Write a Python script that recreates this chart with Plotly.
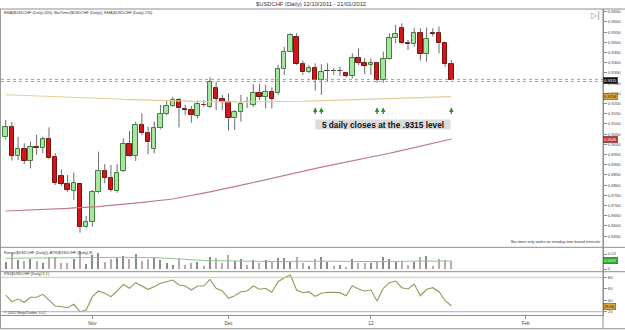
import plotly.graph_objects as go

# ---------------- data ----------------
OPEN = [0.9034, 0.9083, 0.8944, 0.8977, 0.8920, 0.8988, 0.8980, 0.9024, 0.8936, 0.8845,
        0.8804, 0.8773, 0.8804, 0.8593, 0.8618, 0.8765, 0.8869, 0.8836, 0.8771, 0.8869,
        0.9001, 0.8944, 0.9095, 0.9054, 0.8977, 0.9078, 0.9148, 0.9188, 0.9217, 0.9173,
        0.9168, 0.9140, 0.9195, 0.9184, 0.9274, 0.9222, 0.9206, 0.9127, 0.9160, 0.9206,
        0.9193, 0.9250, 0.9233, 0.9258, 0.9250, 0.9367, 0.9454, 0.9527, 0.9393, 0.9356,
        0.9373, 0.9315, 0.9359, 0.9359, 0.9359, 0.9348, 0.9335, 0.9421, 0.9400, 0.9389,
        0.9397, 0.9315, 0.9416, 0.9519, 0.9569, 0.9498, 0.9490, 0.9544, 0.9442, 0.9547,
        0.9544, 0.9495, 0.9392]
HIGH = [0.9119, 0.9111, 0.9037, 0.9005, 0.9013, 0.9046, 0.9037, 0.9083, 0.8956, 0.8877,
        0.8850, 0.8861, 0.8805, 0.8649, 0.8776, 0.8964, 0.8903, 0.8899, 0.8903, 0.9029,
        0.9065, 0.9111, 0.9152, 0.9086, 0.9111, 0.9193, 0.9217, 0.9233, 0.9227, 0.9193,
        0.9188, 0.9214, 0.9217, 0.9328, 0.9307, 0.9242, 0.9250, 0.9168, 0.9242, 0.9233,
        0.9295, 0.9295, 0.9291, 0.9279, 0.9389, 0.9478, 0.9544, 0.9544, 0.9410, 0.9389,
        0.9397, 0.9393, 0.9397, 0.9373, 0.9381, 0.9356, 0.9446, 0.9470, 0.9421, 0.9421,
        0.9405, 0.9454, 0.9544, 0.9585, 0.9593, 0.9511, 0.9569, 0.9569, 0.9572, 0.9569,
        0.9577, 0.9498, 0.9413]
LOW = [0.9024, 0.8920, 0.8923, 0.8903, 0.8882, 0.8948, 0.8956, 0.8926, 0.8801, 0.8796,
       0.8768, 0.8727, 0.8567, 0.8588, 0.8596, 0.8760, 0.8809, 0.8768, 0.8763, 0.8864,
       0.8939, 0.8918, 0.9046, 0.8951, 0.8956, 0.9073, 0.9143, 0.9183, 0.9083, 0.9143,
       0.9106, 0.9127, 0.9184, 0.9178, 0.9168, 0.9168, 0.9067, 0.9070, 0.9111, 0.9178,
       0.9183, 0.9217, 0.9176, 0.9176, 0.9242, 0.9340, 0.9452, 0.9389, 0.9340, 0.9348,
       0.9263, 0.9242, 0.9307, 0.9340, 0.9335, 0.9328, 0.9323, 0.9389, 0.9344, 0.9340,
       0.9302, 0.9302, 0.9413, 0.9495, 0.9490, 0.9462, 0.9478, 0.9410, 0.9405, 0.9528,
       0.9446, 0.9380, 0.9315]
CLOSE = [0.9083, 0.8943, 0.8977, 0.8920, 0.8988, 0.8980, 0.9024, 0.8931, 0.8812, 0.8805,
         0.8776, 0.8809, 0.8596, 0.8618, 0.8765, 0.8869, 0.8836, 0.8776, 0.8861, 0.9001,
         0.8944, 0.9095, 0.9054, 0.9010, 0.9078, 0.9148, 0.9188, 0.9217, 0.9176, 0.9168,
         0.9142, 0.9197, 0.9192, 0.9307, 0.9222, 0.9209, 0.9127, 0.9157, 0.9197, 0.9205,
         0.9253, 0.9233, 0.9258, 0.9222, 0.9367, 0.9454, 0.9536, 0.9393, 0.9352, 0.9373,
         0.9315, 0.9356, 0.9360, 0.9358, 0.9359, 0.9335, 0.9421, 0.9397, 0.9385, 0.9397,
         0.9315, 0.9416, 0.9519, 0.9539, 0.9495, 0.9490, 0.9544, 0.9442, 0.9516, 0.9541,
         0.9495, 0.9392, 0.9315]
EMA_SLOW = [0.9243, 0.9242, 0.9241, 0.9240, 0.9239, 0.9238, 0.9237, 0.9236, 0.9235, 0.9233,
            0.9232, 0.9231, 0.9229, 0.9228, 0.9227, 0.9226, 0.9224, 0.9223, 0.9222, 0.9220,
            0.9219, 0.9218, 0.9217, 0.9216, 0.9214, 0.9213, 0.9212, 0.9212, 0.9211, 0.9210,
            0.9210, 0.9209, 0.9209, 0.9209, 0.9208, 0.9208, 0.9208, 0.9208, 0.9208, 0.9208,
            0.9208, 0.9208, 0.9208, 0.9208, 0.9208, 0.9209, 0.9210, 0.9211, 0.9211, 0.9212,
            0.9213, 0.9213, 0.9214, 0.9215, 0.9216, 0.9217, 0.9218, 0.9219, 0.9220, 0.9221,
            0.9222, 0.9223, 0.9224, 0.9225, 0.9226, 0.9227, 0.9228, 0.9229, 0.9230, 0.9231,
            0.9232, 0.9233, 0.9234]
EMA_FAST = [0.8673, 0.8674, 0.8675, 0.8677, 0.8678, 0.8679, 0.8681, 0.8682, 0.8683, 0.8685,
            0.8686, 0.8688, 0.8689, 0.8691, 0.8693, 0.8695, 0.8698, 0.8700, 0.8703, 0.8706,
            0.8709, 0.8712, 0.8715, 0.8718, 0.8721, 0.8724, 0.8727, 0.8732, 0.8738, 0.8743,
            0.8749, 0.8755, 0.8761, 0.8767, 0.8773, 0.8779, 0.8785, 0.8792, 0.8799, 0.8806,
            0.8813, 0.8820, 0.8827, 0.8834, 0.8841, 0.8848, 0.8856, 0.8863, 0.8870, 0.8876,
            0.8882, 0.8888, 0.8894, 0.8900, 0.8906, 0.8912, 0.8918, 0.8924, 0.8930, 0.8935,
            0.8942, 0.8949, 0.8956, 0.8963, 0.8970, 0.8977, 0.8984, 0.8991, 0.8998, 0.9005,
            0.9012, 0.9019, 0.9026]
ATR = [0.0143, 0.0144, 0.0145, 0.0144, 0.0145, 0.0144, 0.0143, 0.0143, 0.0145, 0.0146,
       0.0147, 0.0150, 0.0156, 0.0155, 0.0158, 0.0160, 0.0158, 0.0157, 0.0156, 0.0156,
       0.0155, 0.0156, 0.0155, 0.0153, 0.0152, 0.0148, 0.0142, 0.0136, 0.0132, 0.0127,
       0.0122, 0.0118, 0.0114, 0.0112, 0.0110, 0.0106, 0.0104, 0.0102, 0.0100, 0.0098,
       0.0097, 0.0097, 0.0096, 0.0096, 0.0098, 0.0101, 0.0103, 0.0104, 0.0105, 0.0104,
       0.0106, 0.0107, 0.0105, 0.0103, 0.0101, 0.0099, 0.0098, 0.0098, 0.0097, 0.0097,
       0.0099, 0.0100, 0.0102, 0.0104, 0.0105, 0.0104, 0.0105, 0.0106, 0.0107, 0.0105,
       0.0105, 0.0106, 0.0107]
RSI = [49.1, 37.5, 42.1, 36.4, 45.1, 45.1, 50.3, 40.4, 29.9, 28.7,
       27.0, 32.9, 20.0, 23.0, 46.2, 56.1, 52.1, 46.2, 56.1, 67.8,
       60.8, 70.6, 64.8, 59.1, 63.6, 69.5, 72.3, 75.3, 66.6, 64.8,
       57.8, 64.8, 64.8, 76.5, 60.8, 56.1, 43.4, 47.9, 54.9, 56.1,
       64.8, 59.1, 60.8, 53.8, 72.3, 79.3, 84.0, 57.8, 53.0, 54.9,
       46.8, 52.1, 53.8, 53.8, 53.2, 47.9, 65.4, 59.6, 56.1, 57.8,
       38.7, 60.8, 70.6, 73.5, 61.9, 59.6, 68.3, 47.9, 59.1, 61.9,
       54.9, 39.2, 29.9]
BID_ASK = [0.9318, 0.9308]
ARROW_BARS = [50, 51, 60, 61, 72]
MAIN_TICKS = [0.9650, 0.9600, 0.9550, 0.9500, 0.9450, 0.9400, 0.9350, 0.9300, 0.9250,
              0.9200, 0.9150, 0.9100, 0.9050, 0.9000, 0.8950, 0.8900, 0.8850, 0.8800,
              0.8750, 0.8700, 0.8650, 0.8600, 0.8550]
RANGE_TICKS = [0.02, 0]
RANGE_TICK_TEXT = ["0.02", "0"]
RSI_TICKS = [20, 40, 60, 80]
X_TICKS = [14, 36, 59, 84]
X_LABELS = ["Nov", "Dec", "12", "Feb"]

N = len(CLOSE)
idx = list(range(N))

GREEN_FILL = "#a9e4a3"
GREEN_LINE = "#3f7f3a"
RED_FILL = "#d2171b"
RED_LINE = "#7a0e0e"
FRAME = "#8e8e8e"
FONT = "Arial"

fig = go.Figure()

# wicks (split so they never cross a body)
wx, wy = [], []
for i in idx:
    top = max(OPEN[i], CLOSE[i])
    bot = min(OPEN[i], CLOSE[i])
    wx += [i, i, None, i, i, None]
    wy += [HIGH[i], top, None, bot, LOW[i], None]
fig.add_trace(go.Scatter(x=wx, y=wy, mode="lines", line=dict(color="#6a6a6a", width=1),
                         hoverinfo="skip", xaxis="x", yaxis="y"))

# bodies
fills, lines = [], []
for i in idx:
    if abs(CLOSE[i] - OPEN[i]) < 0.00025:
        fills.append("#333333"); lines.append("#333333")
    elif CLOSE[i] > OPEN[i]:
        fills.append(GREEN_FILL); lines.append(GREEN_LINE)
    else:
        fills.append(RED_FILL); lines.append(RED_LINE)
fig.add_trace(go.Bar(x=idx, y=[max(abs(c - o), 0.00005) for o, c in zip(OPEN, CLOSE)],
                     base=[min(o, c) for o, c in zip(OPEN, CLOSE)], width=0.72,
                     marker=dict(color=fills, line=dict(color=lines, width=1)),
                     xaxis="x", yaxis="y"))

# EMAs
fig.add_trace(go.Scatter(x=idx, y=EMA_SLOW, mode="lines", line=dict(color="#e5cf96", width=1.2),
                         xaxis="x", yaxis="y"))
fig.add_trace(go.Scatter(x=idx, y=EMA_FAST, mode="lines", line=dict(color="#c27b84", width=1.2),
                         xaxis="x", yaxis="y"))

# Range + ATR
RANGE = [h - l for h, l in zip(HIGH, LOW)]
rcol = ["#8a8a8a" if c >= o else "#b9a9ad" for o, c in zip(OPEN, CLOSE)]
fig.add_trace(go.Bar(x=idx, y=RANGE, base=0, width=0.2, marker=dict(color=rcol, line=dict(width=0)),
                     xaxis="x", yaxis="y2"))
fig.add_trace(go.Scatter(x=idx, y=ATR, mode="lines", line=dict(color="#8cc68c", width=1),
                         xaxis="x", yaxis="y2"))

# RSI
fig.add_trace(go.Scatter(x=idx, y=RSI, mode="lines", line=dict(color="#8e9c5a", width=1.1),
                         xaxis="x", yaxis="y3"))

shapes = []
# RSI levels
shapes.append(dict(type="line", xref="x domain", yref="y3", x0=0, x1=1, y0=80, y1=80,
                   line=dict(color="#cfcf96", width=1)))
shapes.append(dict(type="line", xref="x domain", yref="y3", x0=0, x1=1, y0=20, y1=20,
                   line=dict(color="#b9a6dc", width=1)))
# bid/ask dotted lines
for v in BID_ASK:
    shapes.append(dict(type="line", xref="x domain", yref="y", x0=0, x1=1, y0=v, y1=v,
                       line=dict(color="#8a8a8a", width=0.8, dash="dot")))
# frame
XR = 1.0365
for yy in [1.0, 0.2212, 0.1415]:
    shapes.append(dict(type="line", xref="paper", yref="paper", x0=-0.002, x1=XR, y0=yy, y1=yy,
                       line=dict(color=FRAME, width=1)))
shapes.append(dict(type="line", xref="paper", yref="paper", x0=-0.001, x1=-0.001, y0=1.0, y1=-0.045,
                   line=dict(color=FRAME, width=1)))
shapes.append(dict(type="line", xref="paper", yref="paper", x0=-0.002, x1=XR, y0=-0.045, y1=-0.045,
                   line=dict(color=FRAME, width=1)))
shapes.append(dict(type="line", xref="paper", yref="paper", x0=1.0, x1=1.0, y0=1.0, y1=-0.045,
                   line=dict(color=FRAME, width=1)))

ann = []
small = dict(family=FONT, size=3.8, color="#333333")
ann.append(dict(xref="paper", yref="paper", x=0.515, y=1.0163, xanchor="center", yanchor="middle",
                text="$USDCHF (Daily) 12/10/2011 - 21/01/2012", showarrow=False,
                font=dict(family=FONT, size=5.8, color="#333333")))
ann.append(dict(xref="paper", yref="paper", x=0.001, y=0.9879, xanchor="left", yanchor="middle",
                text="EMA($USDCHF (Daily),300); BarTimer($USDCHF (Daily)); EMA($USDCHF (Daily),150)",
                showarrow=False, font=small))
ann.append(dict(xref="paper", yref="paper", x=0.9978, y=0.2376, xanchor="right", yanchor="middle",
                text="Bar timer only works on intraday time based intervals", showarrow=False, font=small))
ann.append(dict(xref="paper", yref="paper", x=0.001, y=0.2016, xanchor="left", yanchor="middle",
                text="Range($USDCHF (Daily)), ATR($USDCHF (Daily),8)", showarrow=False, font=small))
ann.append(dict(xref="paper", yref="paper", x=0.001, y=0.134, xanchor="left", yanchor="middle",
                text="RSI($USDCHF (Daily),9,1)", showarrow=False, font=small))
ann.append(dict(xref="paper", yref="paper", x=0.001, y=0.0075, xanchor="left", yanchor="middle",
                text="© 2012 NinjaTrader, LLC", showarrow=False, font=small))
ann.append(dict(xref="paper", yref="paper", x=0.987, y=0.980, xanchor="center", yanchor="middle",
                text="▷|", showarrow=False, font=dict(family="DejaVu Sans", size=8, color="#8a8a8a")))

# text box
ann.append(dict(xref="x", yref="y", x=60.9, y=0.9096, xanchor="center", yanchor="middle",
                text="<b>5 daily closes at the .9315 level</b>", showarrow=False,
                bgcolor="#dcdcdc", width=134, height=9, borderpad=0,
                font=dict(family=FONT, size=8.3, color="#111111")))
# arrows
for b in ARROW_BARS:
    ann.append(dict(xref="x", yref="y", x=b, y=0.9181, ax=0, ay=8, text="", showarrow=True,
                    arrowhead=2, arrowsize=0.7, arrowwidth=1.3, arrowcolor="#2e8b2e"))

# right-axis value boxes
def box(yref, val, txt, bg, fg):
    ann.append(dict(xref="paper", yref=yref, x=1.0005, y=val, xanchor="left", yanchor="middle",
                    text=txt, showarrow=False, bgcolor=bg, borderpad=0.6, bordercolor="#444444",
                    borderwidth=0.5, font=dict(family=FONT, size=4, color=fg)))

box("y", CLOSE[-1], f"{CLOSE[-1]:.4f}", "#111111", "#ffffff")
box("y", EMA_SLOW[-1], f"{EMA_SLOW[-1]:.4f}", "#d9a53a", "#222222")
box("y", EMA_FAST[-1], f"{EMA_FAST[-1]:.4f}", "#d62b2b", "#ffffff")
box("y2", ATR[-1], f"{ATR[-1]:.4f}", "#2fa82f", "#ffffff")
box("y3", RSI[-1], f"{RSI[-1]:.2f}", "#d9a53a", "#222222")

tickfont = dict(family=FONT, size=4.2, color="#444444")
axis_common = dict(side="right", anchor="x", showgrid=False, zeroline=False, showline=True,
                   linecolor=FRAME, ticks="outside", ticklen=3, tickcolor=FRAME, tickfont=tickfont,
                   automargin=False, fixedrange=True)

fig.update_layout(
    width=625, height=330, autosize=False,
    margin=dict(l=1, r=22, t=9, b=15, pad=0),
    paper_bgcolor="white", plot_bgcolor="white",
    showlegend=False, barmode="overlay", bargap=0,
    xaxis=dict(range=[-0.76, 96.5], anchor="y3", showgrid=False, zeroline=False, showline=True,
               linecolor=FRAME, ticks="outside", ticklen=3, tickcolor=FRAME,
               tickvals=X_TICKS, ticktext=X_LABELS, tickfont=dict(family=FONT, size=4.6, color="#444444"),
               automargin=False, fixedrange=True),
    yaxis=dict(domain=[0.2212, 1.0], range=[0.84951, 0.96632], tickvals=MAIN_TICKS,
               ticktext=[f"{v:.4f}" for v in MAIN_TICKS], **axis_common),
    yaxis2=dict(domain=[0.1415, 0.2212], range=[-0.0036, 0.02893], tickvals=RANGE_TICKS,
                ticktext=RANGE_TICK_TEXT, **axis_common),
    yaxis3=dict(domain=[0.0, 0.1415], range=[14.24, 89.77], tickvals=RSI_TICKS,
                ticktext=[str(v) for v in RSI_TICKS], **axis_common),
    shapes=shapes, annotations=ann,
)

fig.write_html("out.html")
